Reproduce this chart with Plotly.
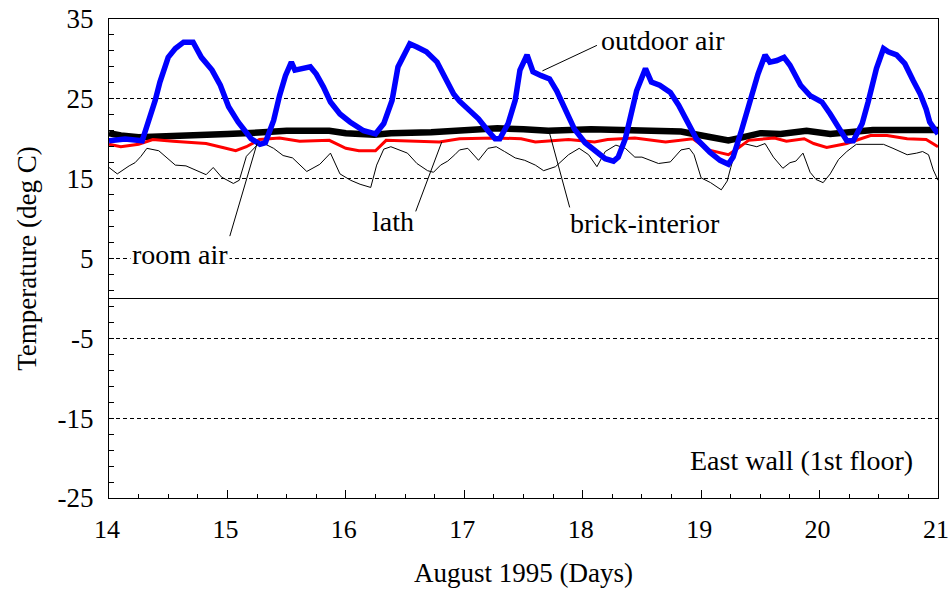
import plotly.graph_objects as go

# outdoor air (blue)
outdoor_x = [14.00, 14.135, 14.28, 14.33, 14.39, 14.43, 14.50, 14.56, 14.63, 14.71,
             14.78, 14.87, 14.94, 15.01, 15.09, 15.20, 15.275, 15.32, 15.39, 15.44,
             15.49, 15.54, 15.57, 15.70, 15.75, 15.81, 15.87, 15.95, 16.035, 16.15,
             16.25, 16.32, 16.39, 16.44, 16.50, 16.54, 16.60, 16.68, 16.77, 16.85,
             16.91, 16.96, 17.03, 17.12, 17.20, 17.26, 17.30, 17.37, 17.43, 17.47,
             17.53, 17.58, 17.65, 17.72, 17.78, 17.85, 17.93, 18.02, 18.10, 18.19,
             18.26, 18.30, 18.36, 18.40, 18.455, 18.53, 18.58, 18.65, 18.74, 18.81,
             18.88, 18.96, 19.075, 19.16, 19.23, 19.27, 19.34, 19.41, 19.48, 19.54,
             19.58, 19.64, 19.70, 19.75, 19.84, 19.92, 20.02, 20.09, 20.16, 20.23,
             20.285, 20.36, 20.41, 20.48, 20.54, 20.58, 20.65, 20.72, 20.79, 20.85,
             20.90, 20.93, 21.00]
outdoor_t = [19.75, 19.97, 19.75, 21.9, 24.8, 27.1, 30.2, 31.3, 32.1, 32.1,
             30.2, 28.6, 26.7, 24.0, 22.1, 20.0, 19.3, 19.5, 22.3, 25.4,
             27.9, 29.6, 28.6, 29.0, 28.1, 26.5, 24.6, 23.1, 22.1, 21.0,
             20.6, 21.9, 24.8, 29.0, 30.7, 31.9, 31.5, 30.9, 29.6, 27.5,
             25.6, 24.7, 23.7, 22.5, 21.0, 20.0, 20.0, 21.9, 24.8, 28.6,
             30.5, 28.4, 27.9, 27.5, 26.0, 23.7, 21.2, 19.5, 18.5, 17.5,
             17.2, 17.7, 20.0, 22.3, 26.0, 28.8, 27.1, 26.7, 25.8, 24.2,
             22.1, 20.0, 18.3, 17.3, 16.8, 17.7, 21.0, 24.8, 28.1, 30.5,
             29.6, 29.8, 30.2, 29.2, 26.7, 25.4, 24.6, 23.1, 21.5, 19.75,
             19.75, 21.9, 24.6, 28.8, 31.3, 30.9, 30.5, 29.4, 27.3, 25.6,
             23.7, 22.1, 20.6]

# brick-interior (thick black)
brick_x = [14.0, 14.1, 14.25, 14.5, 14.75, 15.0, 15.3, 15.5, 15.86, 16.0,
           16.24, 16.38, 16.72, 16.96, 17.28, 17.5, 17.71, 18.07, 18.44, 18.83,
           18.97, 19.1, 19.23, 19.33, 19.5, 19.67, 19.89, 20.09, 20.28, 20.45,
           20.7, 21.0]
brick_t = [20.7, 20.4, 20.2, 20.4, 20.5, 20.6, 20.8, 21.0, 21.0, 20.7,
           20.5, 20.7, 20.8, 21.0, 21.3, 21.2, 21.0, 21.2, 21.1, 20.9,
           20.5, 20.1, 19.8, 20.1, 20.7, 20.6, 21.0, 20.6, 20.8, 21.1,
           21.1, 21.1]

# lath (red)
lath_x = [14.0, 14.1, 14.25, 14.37, 14.54, 14.82, 14.96, 15.07, 15.16, 15.27,
          15.44, 15.61, 15.86, 16.0, 16.11, 16.25, 16.34, 16.56, 16.79, 16.96,
          17.26, 17.48, 17.6, 17.88, 18.1, 18.21, 18.44, 18.70, 18.93, 19.06,
          19.23, 19.31, 19.4, 19.62, 19.72, 19.87, 19.95, 20.06, 20.23, 20.43,
          20.57, 20.74, 20.9, 21.0]
lath_t = [19.3, 19.0, 19.3, 19.9, 19.7, 19.4, 18.9, 18.5, 19.0, 19.9,
          20.1, 19.7, 19.8, 18.8, 18.5, 18.5, 19.8, 19.7, 19.6, 20.0,
          20.1, 20.0, 19.6, 19.9, 19.6, 19.9, 20.1, 19.6, 20.0, 18.6,
          18.0, 18.8, 19.8, 20.1, 19.7, 20.0, 19.4, 18.9, 19.4, 20.4,
          20.4, 20.0, 19.9, 19.0]

# room air (thin black)
room_x = [14.0, 14.07, 14.17, 14.22, 14.27, 14.32, 14.42, 14.56, 14.65, 14.82,
          14.88, 14.95, 15.05, 15.1, 15.16, 15.25, 15.31, 15.39, 15.47, 15.55,
          15.67, 15.78, 15.87, 15.95, 16.04, 16.12, 16.21, 16.26, 16.32, 16.38,
          16.52, 16.60, 16.69, 16.74, 16.80, 16.86, 16.92, 16.96, 17.03, 17.12,
          17.20, 17.27, 17.34, 17.43, 17.51, 17.60, 17.67, 17.77, 17.88, 17.97,
          18.05, 18.12, 18.19, 18.28, 18.36, 18.44, 18.50, 18.64, 18.74, 18.83,
          18.90, 18.94, 19.0, 19.08, 19.17, 19.22, 19.25, 19.30, 19.36, 19.47,
          19.54, 19.61, 19.69, 19.75, 19.80, 19.86, 19.92, 19.97, 20.03, 20.09,
          20.16, 20.23, 20.31, 20.54, 20.62, 20.74, 20.82, 20.87, 20.92, 20.96,
          21.0]
room_t = [16.4, 15.6, 16.6, 17.0, 17.8, 18.8, 18.5, 16.7, 16.6, 15.5,
          16.4, 15.2, 14.4, 14.8, 17.8, 19.2, 19.4, 18.8, 17.9, 17.6,
          15.9, 16.8, 18.2, 15.6, 14.8, 14.3, 13.9, 16.7, 18.7, 19.0,
          18.2, 16.9, 16.0, 15.8, 16.7, 17.2, 18.0, 18.6, 18.8, 17.3,
          18.8, 19.0, 18.4, 17.6, 17.3, 16.7, 16.0, 16.5, 18.0, 18.8,
          18.0, 16.5, 18.4, 19.2, 18.8, 17.7, 17.7, 16.9, 17.1, 18.6,
          18.8, 18.0, 15.1, 14.5, 13.6, 14.7, 16.4, 19.0, 19.4, 19.0,
          19.4, 17.7, 16.3, 17.0, 17.2, 18.2, 15.8, 14.9, 14.5, 15.6,
          17.4, 18.4, 19.3, 19.3, 18.8, 18.0, 18.2, 18.4, 18.0, 16.1,
          14.8]

# y tick labels (hyphen minus as in the original)
y_ticks = [-25, -15, -5, 5, 15, 25, 35]
y_tick_text = ["-25", "-15", "-5", "5", "15", "25", "35"]

# labels: text, text position, leader line (from, to)
labels = [
    ("outdoor air", 18.675, 32.3, (18.12, 31.7), (17.66, 28.5)),
    ("lath", 16.40, 9.6, (16.59, 10.9), (16.81, 19.6)),
    ("brick-interior", 18.53, 9.4, (17.89, 11.4), (17.72, 20.7)),
    ("room air", 14.60, 5.5, (15.02, 7.8), (15.25, 19.4)),
]

FONT = "Times New Roman, Liberation Serif, DejaVu Serif, serif"

fig = go.Figure()
fig.add_trace(go.Scatter(x=room_x, y=room_t, mode="lines", name="room air",
                         line=dict(color="black", width=1)))
fig.add_trace(go.Scatter(x=brick_x, y=brick_t, mode="lines", name="brick-interior",
                         line=dict(color="black", width=6.5)))
fig.add_trace(go.Scatter(x=lath_x, y=lath_t, mode="lines", name="lath",
                         line=dict(color="#ff0000", width=3)))
fig.add_trace(go.Scatter(x=outdoor_x, y=outdoor_t, mode="lines", name="outdoor air",
                         line=dict(color="#0000ff", width=5.5)))

for text, tx, ty, p0, p1 in labels:
    fig.add_shape(type="line", xref="x", yref="y", x0=p0[0], y0=p0[1], x1=p1[0], y1=p1[1],
                  line=dict(color="black", width=1), layer="above")
    fig.add_annotation(x=tx, y=ty, text=text, showarrow=False, xanchor="center", yanchor="middle",
                       bgcolor="white" if text == "room air" else None,
                       font=dict(family=FONT, size=28, color="black"))

fig.add_annotation(x=19.85, y=-20.3, text="East wall (1st floor)", showarrow=False,
                   font=dict(family=FONT, size=28, color="black"))

fig.update_layout(
    width=950, height=593,
    margin=dict(l=109, r=12, t=19, b=95),
    paper_bgcolor="white", plot_bgcolor="white",
    showlegend=False,
    font=dict(family=FONT, size=27, color="black"),
)
fig.update_xaxes(
    range=[14, 21], tick0=14, dtick=1, ticks="inside", ticklen=8, tickcolor="black",
    minor=dict(dtick=0.25, tick0=14, ticks="inside", ticklen=4, tickcolor="black", showgrid=False),
    showline=True, linecolor="black", linewidth=1, mirror=True,
    showgrid=False, zeroline=False, automargin=False, ticklabelstandoff=8,
    ticklabeloverflow="allow", ticklabelshift=-2, tickfont=dict(family=FONT, size=26),
    title=dict(text="August 1995 (Days)", standoff=19, font=dict(family=FONT, size=27)),
)
fig.update_yaxes(
    range=[-25, 35], tickvals=y_ticks, ticktext=y_tick_text, ticks="inside", ticklen=5,
    tickcolor="black", tickfont=dict(family=FONT, size=27),
    minor=dict(dtick=2, tick0=35, ticks="inside", ticklen=5, tickcolor="black", showgrid=False),
    showline=True, linecolor="black", linewidth=1, mirror=True,
    showgrid=True, gridcolor="black", gridwidth=1, griddash="4px,3px",
    zeroline=True, zerolinecolor="black", zerolinewidth=1,
    automargin=False, ticklabelstandoff=9, ticklabeloverflow="allow",
    title=dict(text="Temperature (deg C)", standoff=13, font=dict(family=FONT, size=27)),
)

# the page body has a default 8px margin; drop it so the figure fills the window
fig.write_html("out.html", config={"displayModeBar": False},
               post_script="document.body.style.margin='0px';")
